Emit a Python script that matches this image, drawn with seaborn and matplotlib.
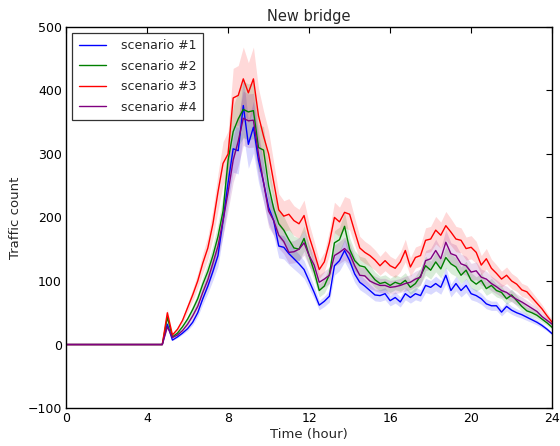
import numpy as np
import pandas as pd
import matplotlib
matplotlib.use("Agg")
import matplotlib.pyplot as plt
import seaborn as sns

# ---------------- data (15-minute resolution, 0h .. 24h) ----------------
hours = np.arange(0, 24.001, 0.25)
leading_zeros = [0] * 19  # 0.00 .. 4.50 h

scenario_1 = leading_zeros + [
    0, 32, 7, 12, 18, 25, 35, 50, 72, 92, 115, 140, 195, 255, 308, 305, 376, 315, 342, 290,
    255, 216, 195, 155, 153, 143, 135, 127, 118, 100, 82, 62, 68, 76, 124, 132, 148, 132, 111, 98,
    92, 85, 78, 77, 80, 69, 74, 67, 80, 74, 80, 77, 93, 90, 96, 90, 109, 85, 96, 85,
    93, 80, 77, 72, 64, 61, 61, 51, 60, 54, 50, 47, 43, 39, 35, 30, 24, 17]
scenario_2 = leading_zeros + [
    0, 43, 12, 18, 28, 40, 55, 72, 95, 115, 140, 170, 210, 290, 335, 355, 370, 366, 368, 310,
    306, 250, 214, 190, 180, 165, 152, 150, 167, 140, 115, 85, 92, 110, 160, 165, 186, 150, 132, 124,
    122, 112, 102, 96, 98, 93, 98, 95, 101, 90, 96, 108, 124, 117, 130, 119, 137, 127, 122, 109,
    117, 101, 95, 101, 88, 93, 85, 82, 72, 78, 69, 60, 53, 50, 46, 40, 34, 27]
scenario_3 = leading_zeros + [
    0, 50, 15, 24, 38, 58, 78, 100, 128, 152, 190, 240, 285, 300, 388, 392, 418, 396, 418, 360,
    328, 300, 256, 212, 202, 205, 195, 190, 203, 170, 145, 118, 130, 160, 200, 193, 208, 205, 178, 152,
    145, 140, 133, 124, 132, 124, 120, 130, 148, 122, 137, 140, 164, 166, 180, 172, 187, 177, 166, 164,
    151, 153, 145, 125, 135, 120, 112, 103, 109, 100, 95, 86, 83, 74, 65, 56, 45, 35]
scenario_4 = leading_zeros + [
    0, 28, 11, 15, 22, 32, 45, 60, 82, 102, 128, 155, 195, 240, 290, 320, 356, 352, 353, 300,
    255, 210, 195, 172, 162, 145, 146, 150, 160, 140, 125, 98, 103, 109, 140, 145, 151, 143, 124, 109,
    108, 100, 96, 93, 93, 90, 91, 93, 96, 98, 103, 106, 132, 135, 148, 135, 161, 143, 140, 127,
    124, 114, 116, 106, 103, 96, 91, 85, 82, 76, 71, 67, 62, 57, 52, 44, 38, 32]

scenario_names = ["scenario #1", "scenario #2", "scenario #3", "scenario #4"]
series = [scenario_1, scenario_2, scenario_3, scenario_4]
band_fraction = 0.12  # relative half-width of the shaded uncertainty band

colors = ["#0000ff", "#008000", "#ff0000", "#800080"]
x_ticks = [0, 4, 8, 12, 16, 20, 24]
y_ticks = [-100, 0, 100, 200, 300, 400, 500]

# ---------------- build long table (low / mid / high per time step) ------
rows = []
for name, vals in zip(scenario_names, series):
    assert len(vals) == len(hours), (name, len(vals))
    for t, v in zip(hours, vals):
        for k in (-1.0, 0.0, 1.0):
            rows.append({"hour": t, "count": v * (1 + k * band_fraction), "scenario": name})
df = pd.DataFrame(rows)

# ---------------- plot ----------------
sns.set_style("white")
plt.rcParams["font.family"] = ["DejaVu Sans"]

fig = plt.figure(figsize=(5.6, 4.46), dpi=100)
ax = fig.add_axes([0.118, 0.085, 0.868, 0.855])

sns.lineplot(data=df, x="hour", y="count", hue="scenario", hue_order=scenario_names,
             palette=colors, estimator="mean", errorbar=("pi", 100),
             linewidth=1.0, err_kws={"alpha": 0.15, "linewidth": 0}, ax=ax)

ax.set_xlim(0, 24)
ax.set_ylim(-100, 500)
ax.set_xticks(x_ticks)
ax.set_yticks(y_ticks)
ax.set_yticklabels([("\u2212" + str(abs(v))) if v < 0 else str(v) for v in y_ticks])
ax.tick_params(direction="in", length=4, width=0.8, top=True, right=True,
               labelsize=9, colors="black", pad=3)
for s in ax.spines.values():
    s.set_visible(True)
    s.set_color("black")
    s.set_linewidth(1.0)

ax.set_xlabel("Time (hour)", fontsize=9.5, labelpad=2)
ax.set_ylabel("Traffic count", fontsize=9.5, labelpad=4)
ax.set_title("New bridge", fontsize=10.5, pad=4)

handles, labels = ax.get_legend_handles_labels()
leg = ax.legend(handles, labels, loc="upper left", fontsize=9, frameon=True,
                fancybox=False, edgecolor="black", handlelength=2.2,
                borderpad=0.5, labelspacing=0.6, handletextpad=1.2,
                borderaxespad=0.5)
leg.get_frame().set_linewidth(0.9)
for h in leg.get_lines():
    h.set_linewidth(1.0)

fig.savefig("out.png", dpi=100, facecolor="white")
